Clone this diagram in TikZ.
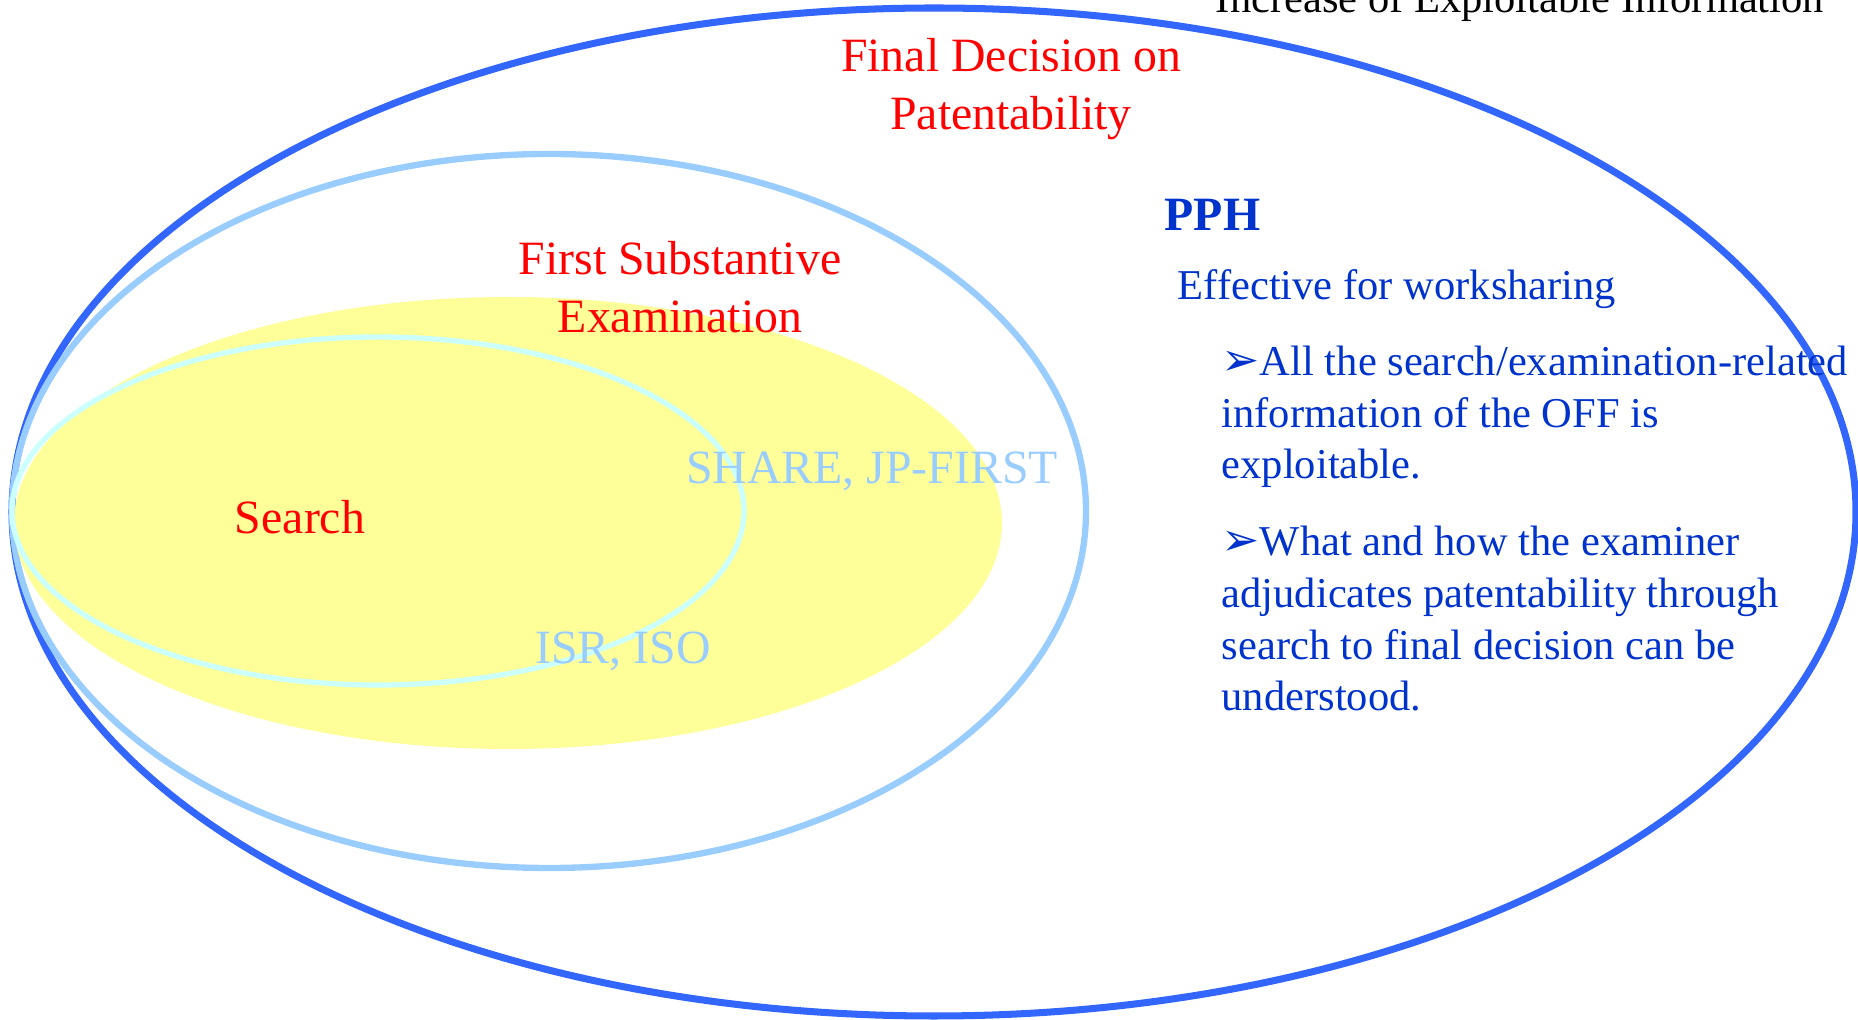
\documentclass[tikz,border=0pt]{standalone}
\usepackage{fontspec}
\setmainfont{Liberation Serif}
\newfontfamily\symfont{DejaVu Sans}
\usepackage{tikz}

\definecolor{outerblue}{HTML}{3366FF}
\definecolor{midblue}{HTML}{99CCFF}
\definecolor{paleyellow}{HTML}{FFFF99}
\definecolor{palecyan}{HTML}{CCFFFF}
\definecolor{textblue}{HTML}{0033CC}
\definecolor{labelred}{HTML}{FF0000}

\newcommand{\tipbullet}{{\symfont\fontsize{13}{14.7}\selectfont ➢}}

\begin{document}
\begin{tikzpicture}[
        stagelabel/.style={text=labelred, font=\fontsize{13.6}{16.5}\selectfont, align=center, anchor=base, inner sep=0pt},
        toollabel/.style={text=midblue, font=\fontsize{13.6}{16.5}\selectfont, anchor=base, inner sep=0pt},
        note/.style={text=textblue, font=\fontsize{12.1}{14.7}\selectfont, align=left, anchor=base west, inner sep=0pt}
    ]
            \useasboundingbox (0,0) rectangle (18.58,-10.20);

            \draw[draw=outerblue, line width=2pt] (9.34,-5.12) ellipse (9.22 and 5.04);
            \draw[draw=midblue, line width=1.8pt] (5.49,-5.11) ellipse (5.37 and 3.57);
            \fill[paleyellow] (5.08,-5.23) ellipse (4.94 and 2.26);
            \draw[draw=palecyan, line width=1.5pt] (3.78,-5.11) ellipse (3.66 and 1.74);

            \node[anchor=base, inner sep=0pt, font=\fontsize{12.1}{14.7}\selectfont] (increase) at (15.20,-0.13) {Increase of Exploitable Information};

            % multi-line nodes sit on the baseline of their last line
            \node[stagelabel] (final) at (10.11,-1.30) {Final Decision on\\Patentability};
            \node[stagelabel] (first) at (6.80,-3.33) {First Substantive\\Examination};
            \node[stagelabel] (search) at (3.00,-5.34) {Search};

            \node[toollabel] (share) at (8.72,-4.84) {SHARE, JP-FIRST};
            \node[toollabel] (isr) at (6.23,-6.64) {ISR, ISO};

            \node[note, font=\fontsize{13.6}{16.5}\selectfont\bfseries] (pph) at (11.64,-2.31) {PPH};
            \node[note] (effective) at (11.77,-3.00) {Effective for worksharing};
            \node[note] (pointa) at (12.21,-4.79) {\tipbullet All the search/examination-related\\information of the OFF is\\exploitable.};
            \node[note] (pointb) at (12.21,-7.11) {\tipbullet What and how the examiner\\adjudicates patentability through\\search to final decision can be\\understood.};

        \end{tikzpicture}
\end{document}
